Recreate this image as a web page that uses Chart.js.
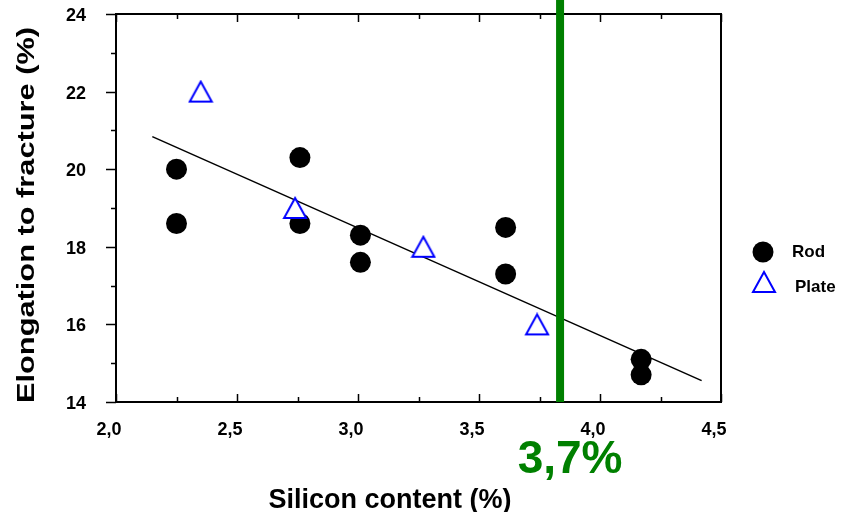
<!DOCTYPE html>
<html>
<head>
<meta charset="utf-8">
<script src="https://cdn.jsdelivr.net/npm/chart.js@4/dist/chart.umd.min.js"></script>
<style>
  body { margin: 0; background: #fff; }
  #wrap { position: relative; width: 844px; height: 512px; }
</style>
</head>
<body>
<div id="wrap"><canvas id="chart"></canvas></div>
<script>
// Data
const rodSi = [2.25, 2.25, 2.76, 2.76, 3.01, 3.01, 3.61, 3.61, 4.17, 4.17];
const rodElong = [20.0, 18.6, 20.3, 18.6, 18.3, 17.6, 18.5, 17.3, 15.1, 14.7];
const plateSi = [2.35, 2.74, 3.27, 3.74];
const plateElong = [22.0, 19.0, 18.0, 16.0];
const fitSi = [2.15, 4.42];
const fitElong = [20.84, 14.55];
const limitSi = [3.835, 3.835];
const limitElong = [14, 24.36];
const limitLabel = '3,7%';
const seriesNames = ['Rod', 'Plate'];
const xTitle = 'Silicon content (%)';
const yTitle = 'Elongation to fracture (%)';

const FONT = '"Liberation Sans", Arial, sans-serif';
const GREEN = '#008000';
const BLUE = '#0000ff';

const pts = (xs, ys) => xs.map((x, i) => ({ x: x, y: ys[i] }));

// triangle marker centred on its bounding box
function triangleMarker() {
  const c = document.createElement('canvas');
  c.width = 26; c.height = 24;
  const g = c.getContext('2d');
  g.beginPath();
  g.moveTo(13, 2);
  g.lineTo(24, 22);
  g.lineTo(2, 22);
  g.closePath();
  g.fillStyle = '#fff';
  g.fill();
  g.lineWidth = 2;
  g.strokeStyle = BLUE;
  g.stroke();
  return c;
}
const tri = triangleMarker();

const isHalf = v => Math.abs(v * 2 - Math.round(v * 2)) < 1e-6;
const isEven = v => Math.abs(v / 2 - Math.round(v / 2)) < 1e-6;

// box, tick marks, titles and legend
const framePlugin = {
  id: 'frame',
  beforeDatasetsDraw(chart) {
    const { ctx, chartArea: a, scales: { x, y } } = chart;
    ctx.save();
    ctx.strokeStyle = '#000';
    ctx.lineWidth = 2;
    ctx.strokeRect(a.left, a.top, a.right - a.left, a.bottom - a.top);
    ctx.lineWidth = 1.5;
    ctx.beginPath();
    x.ticks.forEach(t => {
      const px = Math.round(x.getPixelForValue(t.value)) + 0.5;
      const len = isHalf(t.value) ? 8 : 5;
      ctx.moveTo(px, a.bottom); ctx.lineTo(px, a.bottom - len);
      ctx.moveTo(px, a.top); ctx.lineTo(px, a.top + len);
    });
    y.ticks.forEach(t => {
      const py = Math.round(y.getPixelForValue(t.value)) + 0.5;
      const len = isEven(t.value) ? 10 : 5;
      ctx.moveTo(a.left, py); ctx.lineTo(a.left - len, py);
    });
    ctx.stroke();
    ctx.restore();
  },
  afterDraw(chart) {
    const { ctx, scales: { x } } = chart;
    ctx.save();
    ctx.fillStyle = '#000';
    // x title
    ctx.font = 'bold 27px ' + FONT;
    ctx.textAlign = 'center';
    ctx.textBaseline = 'alphabetic';
    ctx.fillText(xTitle, 390, 508);
    // y title (stretched along its length like the original)
    ctx.font = 'bold 24px ' + FONT;
    const w = ctx.measureText(yTitle).width;
    ctx.translate(34, 215);
    ctx.rotate(-Math.PI / 2);
    ctx.scale(376 / w, 1);
    ctx.fillText(yTitle, 0, 0);
    ctx.restore();

    // limit label
    ctx.save();
    ctx.fillStyle = GREEN;
    ctx.font = 'bold 46px ' + FONT;
    ctx.textAlign = 'center';
    ctx.fillText(limitLabel, x.getPixelForValue(limitSi[0]) + 10, 473);

    // legend
    ctx.fillStyle = '#000';
    ctx.beginPath();
    ctx.arc(763, 252, 10.5, 0, Math.PI * 2);
    ctx.fill();
    ctx.drawImage(tri, 751, 270);
    ctx.font = 'bold 17px ' + FONT;
    ctx.textAlign = 'left';
    ctx.fillText(seriesNames[0], 792, 257);
    ctx.fillText(seriesNames[1], 795, 292);
    ctx.restore();
  }
};

new Chart(document.getElementById('chart').getContext('2d'), {
  type: 'scatter',
  data: {
    datasets: [
      {
        label: seriesNames[1],
        data: pts(plateSi, plateElong),
        pointStyle: tri,
        pointRadius: 12,
        showLine: false
      },
      {
        label: seriesNames[0],
        data: pts(rodSi, rodElong),
        pointStyle: 'circle',
        pointRadius: 10.5,
        backgroundColor: '#000',
        borderColor: '#000',
        borderWidth: 0,
        showLine: false
      },
      {
        label: 'limit',
        data: pts(limitSi, limitElong),
        showLine: true,
        borderColor: GREEN,
        borderWidth: 8,
        pointRadius: 0,
        clip: false
      },
      {
        label: 'fit',
        data: pts(fitSi, fitElong),
        showLine: true,
        borderColor: '#000',
        borderWidth: 1.5,
        pointRadius: 0
      }
    ]
  },
  options: {
    responsive: true,
    maintainAspectRatio: false,
    animation: false,
    layout: { padding: { top: 14, right: 123, left: 0, bottom: 0 } },
    plugins: {
      legend: { display: false },
      tooltip: { enabled: false },
      title: { display: false }
    },
    scales: {
      x: {
        type: 'linear',
        min: 2,
        max: 4.5,
        grid: { display: false },
        border: { display: false },
        ticks: {
          stepSize: 0.25,
          autoSkip: false,
          maxRotation: 0,
          padding: 9,
          labelOffset: -7,
          color: '#000',
          font: { family: FONT, size: 18, weight: 'bold' },
          callback: v => isHalf(v) ? v.toFixed(1).replace('.', ',') : ''
        },
        afterFit(scale) {
          scale.height = 110;
          scale.paddingLeft = 0;
          scale.paddingRight = 0;
        }
      },
      y: {
        type: 'linear',
        min: 14,
        max: 24,
        grid: { display: false },
        border: { display: false },
        ticks: {
          stepSize: 1,
          autoSkip: false,
          padding: 22,
          labelOffset: 2,
          color: '#000',
          font: { family: FONT, size: 18, weight: 'bold' },
          callback: v => isEven(v) ? String(v) : ''
        },
        afterFit(scale) {
          scale.width = 116;
          scale.paddingTop = 0;
          scale.paddingBottom = 0;
        }
      }
    }
  },
  plugins: [framePlugin]
});
</script>
</body>
</html>
